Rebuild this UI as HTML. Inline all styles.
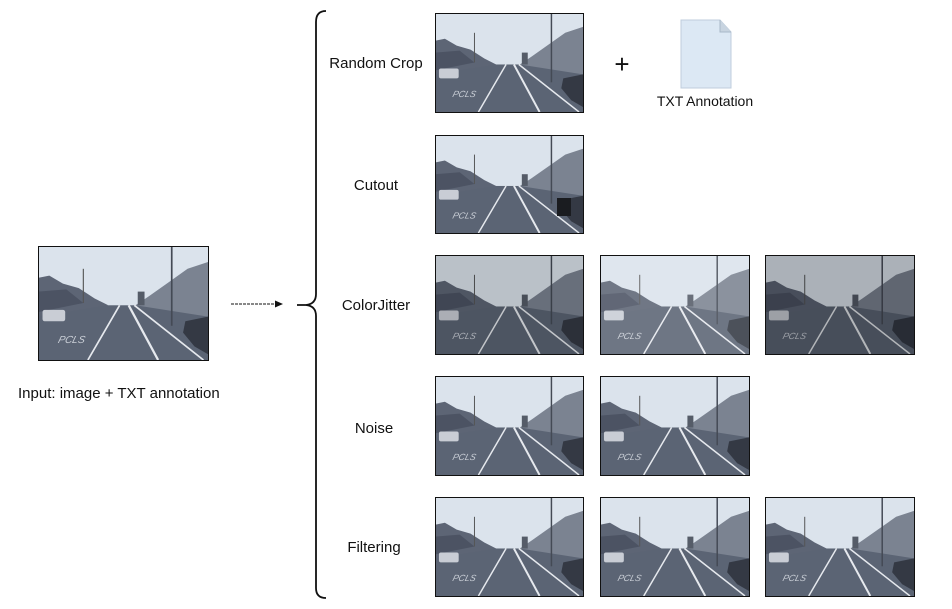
<!DOCTYPE html>
<html><head><style>
html,body{margin:0;padding:0;background:#fff;}
svg{display:block;}
text{font-family:"Liberation Sans",sans-serif;fill:#111;}
</style></head><body>
<svg width="952" height="609" viewBox="0 0 952 609" xmlns="http://www.w3.org/2000/svg">
<defs>
<symbol id="ph" viewBox="0 0 150 100" preserveAspectRatio="none">
<rect width="150" height="100" fill="#dbe3ec"/>
<rect y="52" width="150" height="48" fill="#5b6474"/>
<polygon points="0,28 10,26 22,33 36,37 50,46 62,52 0,62" fill="#5d6575"/>
<polygon points="150,14 132,20 115,32 98,44 86,52 150,62" fill="#7b8391"/>
<polygon points="0,40 25,38 40,50 0,58" fill="#4c5363"/>
<line x1="72" y1="52" x2="44" y2="100" stroke="#e6e9ee" stroke-width="1.5"/>
<line x1="80" y1="52" x2="106" y2="100" stroke="#e6e9ee" stroke-width="2"/>
<line x1="85" y1="52" x2="146" y2="100" stroke="#e6e9ee" stroke-width="1.5"/>
<rect x="4" y="56" width="20" height="10" rx="2" fill="#c9cdd5"/>
<polygon points="130,66 150,62 150,95 138,88 128,76" fill="#343944"/>
<line x1="118" y1="0" x2="118" y2="70" stroke="#444a55" stroke-width="1.5"/>
<line x1="40" y1="20" x2="40" y2="50" stroke="#555" stroke-width="1"/>
<rect x="88" y="40" width="6" height="12" fill="#555c68"/>
<text x="40" y="85" font-size="9" style="fill:#c9ced6;font-style:italic" transform="skewX(-15)">PCLS</text>
</symbol>
</defs>

<use href="#ph" x="38" y="246" width="170" height="114"/>
<rect x="38.5" y="246.5" width="170" height="114" fill="none" stroke="#111"/>
<text x="18" y="398" font-size="15">Input: image + TXT annotation</text>

<line x1="231" y1="304" x2="276" y2="304" stroke="#111" stroke-width="1" stroke-dasharray="3,1"/>
<polygon points="283,304 275,300.5 275,307.5" fill="#111"/>

<path d="M326,11 Q316,11 316,22 L316,294 Q316,304 306,305 L297,305 M306,305 Q316,306 316,316 L316,588 Q316,598 326,598" fill="none" stroke="#111" stroke-width="1.8"/>

<text x="376" y="68" font-size="15" text-anchor="middle">Random Crop</text>
<text x="376" y="190" font-size="15" text-anchor="middle">Cutout</text>
<text x="376" y="310" font-size="15" text-anchor="middle">ColorJitter</text>
<text x="374" y="433" font-size="15" text-anchor="middle">Noise</text>
<text x="374" y="552" font-size="15" text-anchor="middle">Filtering</text>

<use href="#ph" x="435" y="13" width="148" height="99"/>
<rect x="435.5" y="13.5" width="148" height="99" fill="none" stroke="#111"/>
<text x="622" y="73" font-size="26" text-anchor="middle">+</text>
<path d="M681,20 L720,20 L731,32 L731,88 L681,88 Z" fill="#dce8f4" stroke="#bfcddc"/>
<path d="M720,20 L720,32 L731,32" fill="#c8d4e0" stroke="#a8b8c8"/>
<text x="705" y="106" font-size="14" text-anchor="middle">TXT Annotation</text>

<use href="#ph" x="435" y="135" width="148" height="98"/>
<rect x="557" y="198" width="14" height="18" fill="#1a1c20"/>
<rect x="435.5" y="135.5" width="148" height="98" fill="none" stroke="#111"/>

<use href="#ph" x="435" y="255" width="148" height="99"/>
<rect x="435" y="255" width="148" height="99" fill="#000" opacity="0.15"/>
<rect x="435.5" y="255.5" width="148" height="99" fill="none" stroke="#111"/>
<use href="#ph" x="600" y="255" width="149" height="99"/>
<rect x="600" y="255" width="149" height="99" fill="#fff" opacity="0.12"/>
<rect x="600.5" y="255.5" width="149" height="99" fill="none" stroke="#111"/>
<use href="#ph" x="765" y="255" width="149" height="99"/>
<rect x="765" y="255" width="149" height="99" fill="#000" opacity="0.22"/>
<rect x="765.5" y="255.5" width="149" height="99" fill="none" stroke="#111"/>

<use href="#ph" x="435" y="376" width="148" height="99"/>
<rect x="435.5" y="376.5" width="148" height="99" fill="none" stroke="#111"/>
<use href="#ph" x="600" y="376" width="149" height="99"/>
<rect x="600.5" y="376.5" width="149" height="99" fill="none" stroke="#111"/>

<use href="#ph" x="435" y="497" width="148" height="99"/>
<rect x="435.5" y="497.5" width="148" height="99" fill="none" stroke="#111"/>
<use href="#ph" x="600" y="497" width="149" height="99"/>
<rect x="600.5" y="497.5" width="149" height="99" fill="none" stroke="#111"/>
<use href="#ph" x="765" y="497" width="149" height="99"/>
<rect x="765.5" y="497.5" width="149" height="99" fill="none" stroke="#111"/>
</svg>
</body></html>
